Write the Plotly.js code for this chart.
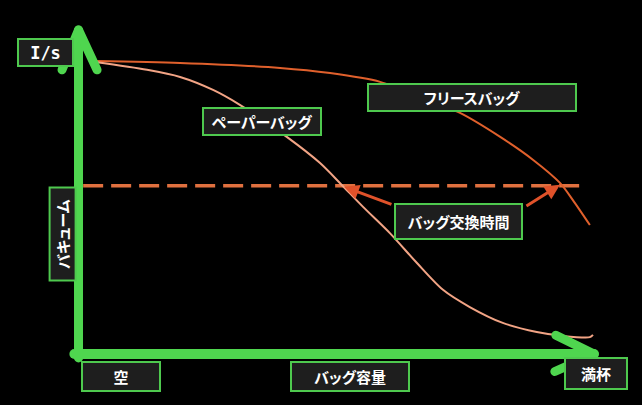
<!DOCTYPE html>
<html>
<head>
<meta charset="utf-8">
<script src="https://cdn.plot.ly/plotly-3.0.1.min.js"></script>
<style>
html, body { margin: 0; padding: 0; background: #000; }
#chart { width: 642px; height: 405px; }
.shapelayer path { stroke-linecap: round; stroke-linejoin: round; }
.annotation-text { font-feature-settings: "palt"; }
</style>
</head>
<body>
<div id="chart"></div>
<script>
// Bag fill (0 = empty, 100 = full) vs. vacuum (relative, 0-100)
const paperX  = [3.2, 13.3, 19.7, 26.1, 31.3, 40.4, 46.8, 50.7, 55.2, 60.4, 65.7, 70.7, 75.9, 82.3, 88.9, 93.9, 99.2, 99.8];
const paperY  = [90.1, 87.7, 85.5, 81.5, 76.9, 67.0, 59.0, 52.8, 45.4, 37.3, 28.0, 19.8, 14.5, 9.6, 6.8, 5.6, 5.2, 5.9];
const fleeceX = [3.2, 19.7, 39.1, 48.8, 58.5, 66.2, 74.0, 81.8, 88.2, 93.4, 95.9, 99.2];
const fleeceY = [90.4, 89.8, 88.3, 86.7, 84.0, 79.3, 74.4, 67.0, 59.9, 52.8, 47.5, 39.8];
const swapX   = [0.9, 98.6];
const swapY   = [51.9, 51.9];
const arrowTipX  = [51.5, 93.4];
const arrowTipY  = [51.6, 52.2];
const arrowTailX = [61.0, 86.6];
const arrowTailY = [46.0, 45.4];

const labelPaper  = 'ペーパーバッグ';
const labelFleece = 'フリースバッグ';
const labelSwap   = 'バッグ交換時間';
const labelY      = 'バキューム';
const labelYUnit  = 'I/s';
const labelXMin   = '空';
const labelXMid   = 'バッグ容量';
const labelXMax   = '満杯';

const GREEN = '#4fd64f';
const BOXBG = '#1e1e1e';
const BOXBORDER = '#4ec94e';
const JP = '"Noto Sans CJK JP", "Noto Sans", sans-serif';

const traces = [
  { x: swapX, y: swapY, mode: 'lines', line: { color: '#e0703f', width: 3.5, dash: '20px,8px' }, hoverinfo: 'skip' },
  { x: fleeceX, y: fleeceY, mode: 'lines', line: { color: '#e0602c', width: 2, shape: 'spline', smoothing: 0.8 }, hoverinfo: 'skip' },
  { x: paperX, y: paperY, mode: 'lines', line: { color: '#f2a485', width: 2, shape: 'spline', smoothing: 0.8 }, hoverinfo: 'skip' }
];

function box(text, x, y, w, h, size, family, angle) {
  return {
    text: '<b>' + text + '</b>', x: x, y: y, xref: 'x', yref: 'y', showarrow: false,
    font: { color: '#ffffff', size: size, family: family },
    bgcolor: BOXBG, bordercolor: BOXBORDER, borderwidth: 2, borderpad: 0,
    width: w, height: h, textangle: angle || 0, xanchor: 'center', yanchor: 'middle', align: 'center', valign: 'middle'
  };
}

const annotations = [];
for (let i = 0; i < arrowTipX.length; i++) {
  annotations.push({
    x: arrowTipX[i], y: arrowTipY[i], ax: arrowTailX[i], ay: arrowTailY[i],
    xref: 'x', yref: 'y', axref: 'x', ayref: 'y', text: '', showarrow: true,
    arrowhead: 2, arrowsize: 1, arrowwidth: 3, arrowcolor: '#e0522a', standoff: 0, startstandoff: 0
  });
}
annotations.push(box(labelYUnit, -6.4, 93.05, 53, 25, 17, '"DejaVu Sans Mono", monospace'));
annotations.push(box(labelPaper, 35.6, 71.8, 116, 25, 15, JP));
annotations.push(box(labelFleece, 76.3, 79.2, 206, 25, 15, JP));
annotations.push(box(labelSwap, 73.7, 40.9, 125, 33, 15, JP));
annotations.push(box(labelY, -3.0, 36.9, 91, 24, 15, JP, -90));
annotations.push(box(labelXMin, 8.2, -6.9, 76, 27, 15, JP));
annotations.push(box(labelXMid, 52.7, -6.9, 116, 27, 15, JP));
annotations.push(box(labelXMax, 100.4, -6.0, 60, 29, 15, JP));

const shapes = [
  { type: 'path', xref: 'x', yref: 'y', path: 'M 0,-1.2 L 0,100', line: { color: GREEN, width: 9 } },
  { type: 'path', xref: 'x', yref: 'y', path: 'M -3.2,87.7 L 0,100 L 3.6,87.7', line: { color: GREEN, width: 9 } },
  { type: 'path', xref: 'x', yref: 'y', path: 'M -0.8,0 L 100,0', line: { color: GREEN, width: 10 } },
  { type: 'path', xref: 'x', yref: 'y', path: 'M 92.6,5.8 L 100,0 L 92.4,-5.4', line: { color: GREEN, width: 9 } }
];

const layout = {
  width: 642, height: 405,
  margin: { l: 0, r: 0, t: 0, b: 0 },
  paper_bgcolor: '#000000', plot_bgcolor: '#000000',
  showlegend: false,
  xaxis: { range: [-15.23, 109.31], visible: false, fixedrange: true },
  yaxis: { range: [-15.74, 109.26], visible: false, fixedrange: true },
  shapes: shapes,
  annotations: annotations
};

Plotly.newPlot('chart', traces, layout, { displayModeBar: false, staticPlot: true });
</script>
</body>
</html>
